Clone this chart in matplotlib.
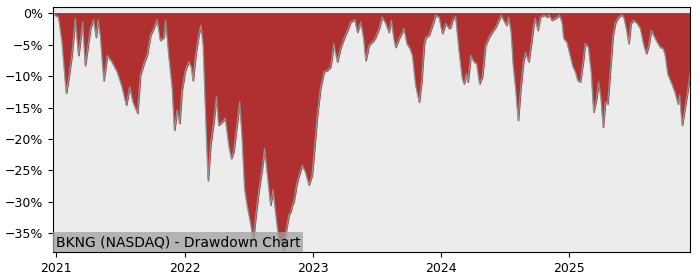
import pandas as pd
from matplotlib import pyplot as plt
import matplotlib.dates as mdates
from matplotlib.ticker import FuncFormatter

ticker_label = "BKNG (NASDAQ) - Drawdown Chart"

# drawdown (%), by date
dates = [
    "2020-12-23", "2020-12-29", "2021-01-07", "2021-01-17", "2021-01-29", "2021-02-05",
    "2021-02-14", "2021-02-24", "2021-03-05", "2021-03-17", "2021-03-24", "2021-04-08",
    "2021-04-17", "2021-04-24", "2021-04-30", "2021-05-06", "2021-05-16", "2021-05-26",
    "2021-06-08", "2021-06-23", "2021-07-07", "2021-07-19", "2021-07-29", "2021-08-07",
    "2021-08-20", "2021-08-28", "2021-09-07", "2021-09-16", "2021-09-26", "2021-10-05",
    "2021-10-15", "2021-10-24", "2021-11-03", "2021-11-08", "2021-11-17", "2021-11-27",
    "2021-12-03", "2021-12-11", "2021-12-18", "2021-12-24",
    "2022-01-03", "2022-01-13", "2022-01-20", "2022-01-25", "2022-02-01", "2022-02-10",
    "2022-02-17", "2022-02-23", "2022-03-01", "2022-03-09", "2022-03-16", "2022-03-25",
    "2022-04-02", "2022-04-08", "2022-04-18", "2022-04-27", "2022-05-07", "2022-05-14",
    "2022-05-21", "2022-05-29", "2022-06-07", "2022-06-14", "2022-06-21", "2022-06-28",
    "2022-07-08", "2022-07-16", "2022-07-22", "2022-07-31", "2022-08-10", "2022-08-17",
    "2022-08-26", "2022-09-03", "2022-09-10", "2022-09-17", "2022-09-26", "2022-10-06",
    "2022-10-11", "2022-10-15", "2022-10-25", "2022-10-30", "2022-11-04", "2022-11-08",
    "2022-11-16", "2022-11-22", "2022-12-02", "2022-12-11", "2022-12-21", "2022-12-30",
    "2023-01-06", "2023-01-14", "2023-01-23", "2023-02-02", "2023-02-11", "2023-02-21",
    "2023-03-02", "2023-03-12", "2023-03-21", "2023-03-31", "2023-04-10", "2023-04-19",
    "2023-05-01", "2023-05-08", "2023-05-18", "2023-05-26", "2023-06-01", "2023-06-10",
    "2023-06-24", "2023-06-29", "2023-07-09", "2023-07-18", "2023-07-28", "2023-08-06",
    "2023-08-13", "2023-08-20", "2023-08-25", "2023-09-04", "2023-09-13", "2023-09-18",
    "2023-09-26", "2023-10-05", "2023-10-12", "2023-10-21", "2023-10-31", "2023-11-07",
    "2023-11-14", "2023-11-19", "2023-11-28", "2023-12-08", "2023-12-17", "2023-12-27",
    "2024-01-05", "2024-01-15", "2024-01-24", "2024-01-29", "2024-02-03", "2024-02-12",
    "2024-02-21", "2024-03-02", "2024-03-07", "2024-03-14", "2024-03-18", "2024-03-26",
    "2024-04-04", "2024-04-12", "2024-04-20", "2024-04-28", "2024-05-07", "2024-05-17",
    "2024-05-26", "2024-06-05", "2024-06-14", "2024-06-21", "2024-06-28", "2024-07-06",
    "2024-07-12", "2024-07-19", "2024-07-25", "2024-08-01", "2024-08-08", "2024-08-15",
    "2024-08-23", "2024-08-29", "2024-09-07", "2024-09-15", "2024-09-21", "2024-09-26",
    "2024-10-03", "2024-10-10", "2024-10-20", "2024-10-30", "2024-11-03", "2024-11-12",
    "2024-11-22", "2024-12-04", "2024-12-11", "2024-12-16", "2024-12-25",
    "2025-01-03", "2025-01-11", "2025-01-18", "2025-01-25", "2025-02-01", "2025-02-09",
    "2025-02-15", "2025-02-24", "2025-03-04", "2025-03-11", "2025-03-19", "2025-03-25",
    "2025-04-01", "2025-04-07", "2025-04-13", "2025-04-20", "2025-04-27", "2025-05-05",
    "2025-05-12", "2025-05-21", "2025-05-31", "2025-06-06", "2025-06-14", "2025-06-19",
    "2025-06-25", "2025-07-03", "2025-07-13", "2025-07-22", "2025-08-01", "2025-08-08",
    "2025-08-15", "2025-08-22", "2025-08-29", "2025-09-08", "2025-09-17", "2025-09-25",
    "2025-10-01", "2025-10-08", "2025-10-16", "2025-10-23", "2025-10-30", "2025-11-06",
    "2025-11-11", "2025-11-18", "2025-11-24", "2025-12-02", "2025-12-11",
]
drawdown = [
    0.0, -0.3, -0.6, -4.6, -12.7, -10.3,
    -6.7, -0.8, -6.7, -1.4, -8.3, -2.4,
    -1.0, -3.8, -1.1, -3.5, -10.7, -6.7,
    -7.7, -9.3, -11.7, -14.6, -11.7, -14.1,
    -15.9, -9.9, -8.0, -6.7, -3.5, -2.4,
    -1.0, -4.3, -3.8, -1.1, -6.7, -12.0,
    -18.6, -15.4, -17.5, -12.5,
    -9.1, -7.7, -8.5, -10.7, -6.9, -3.5,
    -1.9, -5.1, -14.6, -26.6, -21.0, -17.3,
    -13.3, -17.8, -17.3, -16.7, -21.0, -23.1,
    -22.0, -18.3, -14.1, -19.9, -27.9, -30.5,
    -33.4, -36.1, -32.6, -28.4, -24.7, -21.5,
    -26.3, -30.5, -28.1, -31.6, -35.8, -36.9,
    -37.7, -35.3, -32.1, -31.6, -30.5, -30.0,
    -27.3, -26.0, -24.2, -25.2, -27.3, -25.8,
    -21.5, -16.2, -12.0, -9.3, -9.1, -8.5,
    -4.8, -7.7, -5.6, -4.0, -2.7, -1.4,
    -1.0, -3.0, -1.4, -4.0, -7.5, -5.1,
    -4.3, -3.8, -2.4, -0.6, -1.6, -3.0,
    -1.1, -4.0, -5.4, -4.0, -3.0, -2.4,
    -4.8, -5.6, -6.7, -11.4, -14.1, -10.9,
    -5.1, -3.8, -3.5, -1.9, -0.3, -0.6,
    -3.2, -1.6, -2.4, -2.2, -1.1, -0.5,
    -5.6, -10.4, -11.2, -9.6, -10.9, -6.7,
    -7.7, -8.0, -11.2, -10.1, -5.1, -3.8,
    -3.0, -2.2, -1.1, -0.3, -1.1, -1.9,
    -0.6, -3.0, -8.3, -12.0, -17.0, -12.0,
    -7.7, -6.2, -7.7, -4.6, -1.9, -0.8,
    -2.7, -0.6, -0.3, -0.6, -0.2, -1.1,
    -0.8, -0.3, -1.4, -4.0, -4.6,
    -6.7, -8.5, -9.3, -10.7, -10.9, -7.7,
    -4.8, -5.4, -9.3, -15.7, -13.6, -10.9,
    -13.6, -18.1, -14.1, -14.4, -9.3, -3.5,
    -1.5, -0.6, -0.2, -0.8, -3.0, -4.8,
    -1.6, -1.1, -1.6, -2.4, -5.1, -6.4,
    -5.1, -2.7, -3.5, -4.6, -5.4, -5.6,
    -6.7, -9.6, -10.7, -11.7, -12.8, -14.4,
    -13.0, -17.8, -15.7, -13.0, -9.5,
]

dd = pd.Series(drawdown, index=pd.to_datetime(dates))

fig, ax = plt.subplots(figsize=(7, 2.8), dpi=100)
ax.set_facecolor("#ececec")

ax.fill_between(dd.index, dd.values, 0, color="#b03030", zorder=2)
ax.plot(dd.index, dd.values, color="#8a9696", lw=0.9, zorder=2)

ax.set_xlim(dd.index[0], dd.index[-1])
ax.set_ylim(-38, 1)
ax.set_yticks(range(0, -36, -5))
ax.yaxis.set_major_formatter(FuncFormatter(lambda v, p: f"{v:.0f}%".replace("-", "\u2212")))
ax.xaxis.set_major_locator(mdates.YearLocator())
ax.xaxis.set_major_formatter(mdates.DateFormatter("%Y"))
ax.tick_params(labelsize=9)

ax.text(0.004, 0.012, ticker_label, transform=ax.transAxes, fontsize=10,
        ha="left", va="bottom", zorder=3,
        bbox=dict(facecolor="#a0a0a0", edgecolor="none", alpha=0.75, pad=2))

plt.subplots_adjust(left=0.076, right=0.986, top=0.975, bottom=0.1)
plt.savefig("out.png")
